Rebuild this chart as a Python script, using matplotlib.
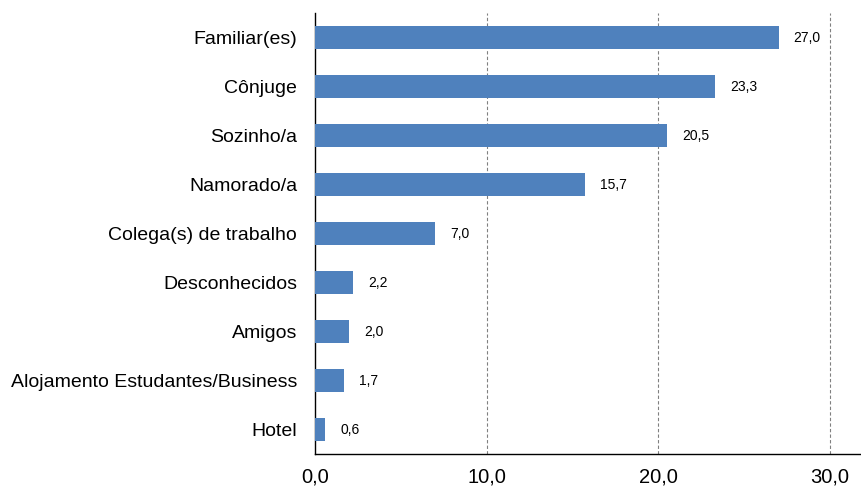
import matplotlib
matplotlib.use('Agg')
import matplotlib.pyplot as plt
from matplotlib.ticker import FixedLocator

plt.rcParams['font.family'] = ['Liberation Sans', 'DejaVu Sans']

# ---------------------------------------------------------------------------
# Data
# ---------------------------------------------------------------------------
categories = ['Familiar(es)', 'Cônjuge', 'Sozinho/a', 'Namorado/a',
              'Colega(s) de trabalho', 'Desconhecidos', 'Amigos',
              'Alojamento Estudantes/Business', 'Hotel']
values = [27.0, 23.3, 20.5, 15.7, 7.0, 2.2, 2.0, 1.7, 0.6]
xticks = [0, 10, 20, 30]

BAR_COLOR = '#4F81BD'

fig = plt.figure(figsize=(8.61, 4.90), dpi=100)
ax = fig.add_axes([0.366, 0.0735, 0.634, 0.9])

ypos = list(range(len(categories)))
ax.barh(ypos, values, height=0.47, color=BAR_COLOR, zorder=3)

for y, v in zip(ypos, values):
    ax.annotate(f'{v:.1f}'.replace('.', ','), xy=(v, y), xytext=(15, -1),
                textcoords='offset pixels', va='center', ha='left',
                fontsize=10)

ax.set_xlim(0, 31.8)
ax.set_ylim(len(categories) - 0.5, -0.5)
ax.set_yticks(ypos)
ax.set_yticklabels(categories, fontsize=14)
ax.xaxis.set_major_locator(FixedLocator(xticks))
ax.set_xticklabels([f'{t:.1f}'.replace('.', ',') for t in xticks],
                   fontsize=14.5)
ax.tick_params(axis='both', length=0)
ax.tick_params(axis='y', pad=13)
ax.tick_params(axis='x', pad=10)

for t in xticks[1:]:
    ax.axvline(t, color='#808080', linestyle=(0, (3, 2)), linewidth=0.8,
               zorder=1)

ax.spines['top'].set_visible(False)
ax.spines['right'].set_visible(False)
ax.spines['left'].set_linewidth(1.0)
ax.spines['bottom'].set_linewidth(1.0)

fig.savefig('out.png', dpi=100)
